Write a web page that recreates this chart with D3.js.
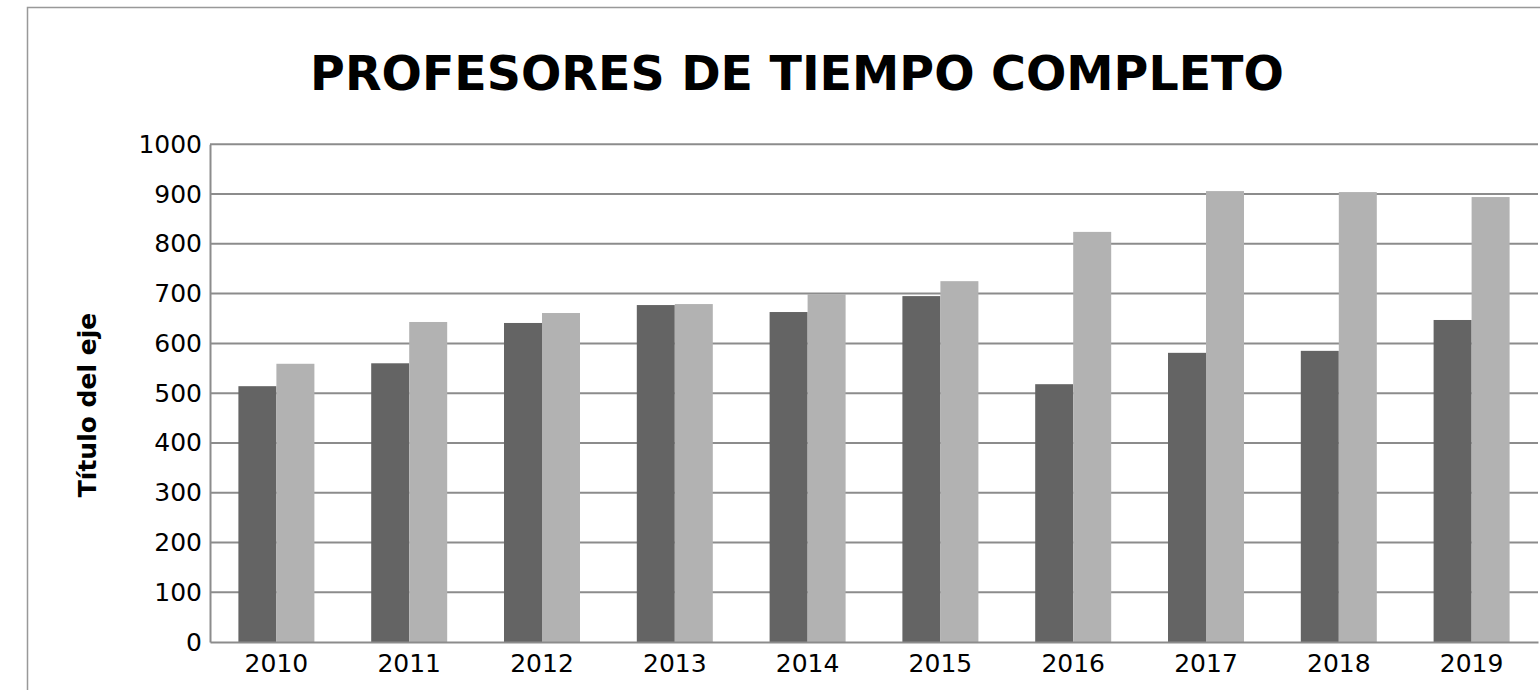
<!DOCTYPE html>
<html>
<head>
<meta charset="utf-8">
<script src="https://cdn.jsdelivr.net/npm/d3@7"></script>
<style>
  html, body { margin: 0; padding: 0; background: #fff; }
  svg { display: block; }
  text { font-family: "DejaVu Sans", sans-serif; fill: #000; }
</style>
</head>
<body>
<svg id="chart" width="1540" height="690"></svg>
<script>
// Años y valores de las dos series
const years = ["2010","2011","2012","2013","2014","2015","2016","2017","2018","2019"];
const seriesA = [514, 560, 641, 677, 663, 695, 518, 581, 585, 647];
const seriesB = [559, 643, 661, 679, 699, 725, 824, 906, 904, 894];
const yTicks = [0,100,200,300,400,500,600,700,800,900,1000];
const seriesColors = ["#646464", "#b2b2b2"];

const svg = d3.select("#chart");
const W = 1540, H = 690;
const plot = { left: 210, right: 1538, top: 144.3, bottom: 642 };

// Marco del gráfico
svg.append("rect")
  .attr("x", 27.5).attr("y", 7.5)
  .attr("width", W + 20).attr("height", H + 20)
  .attr("fill", "#fff").attr("stroke", "#999").attr("stroke-width", 1.5);

// Título
svg.append("text")
  .attr("x", 797).attr("y", 90)
  .attr("text-anchor", "middle")
  .style("font-size", "47.5px").style("font-weight", "bold")
  .text("PROFESORES DE TIEMPO COMPLETO");

const x = d3.scaleBand().domain(years).range([plot.left, plot.right]).padding(0);
const y = d3.scaleLinear().domain([0, 1000]).range([plot.bottom, plot.top]);
const barW = 38;

// Líneas de cuadrícula
svg.append("g").selectAll("line")
  .data(yTicks.filter(t => t > 0))
  .join("line")
  .attr("x1", plot.left).attr("x2", plot.right)
  .attr("y1", d => y(d)).attr("y2", d => y(d))
  .attr("stroke", "#8c8c8c").attr("stroke-width", 2);

// Barras
const groups = svg.append("g").selectAll("g")
  .data(years)
  .join("g")
  .attr("transform", d => `translate(${x(d) + x.bandwidth() / 2},0)`);

[seriesA, seriesB].forEach((vals, si) => {
  groups.append("rect")
    .attr("x", si === 0 ? -barW : 0)
    .attr("width", barW)
    .attr("y", (d, i) => y(vals[i]))
    .attr("height", (d, i) => y(0) - y(vals[i]))
    .attr("fill", seriesColors[si]);
});

// Eje Y
const yAxis = d3.axisLeft(y).tickValues(yTicks).tickFormat(d3.format("d")).tickSize(0).tickPadding(8);
const gy = svg.append("g").attr("transform", `translate(${plot.left},0)`).call(yAxis);
gy.attr("font-family", "DejaVu Sans, sans-serif").attr("font-size", 25);
gy.select(".domain").attr("stroke", "#8c8c8c").attr("stroke-width", 2);

// Eje X
const xAxis = d3.axisBottom(x).tickSize(0).tickPadding(12);
const gx = svg.append("g").attr("transform", `translate(0,${plot.bottom})`).call(xAxis);
gx.attr("font-family", "DejaVu Sans, sans-serif").attr("font-size", 25);
gx.select(".domain").attr("stroke", "#8c8c8c").attr("stroke-width", 2);

// Título del eje Y
svg.append("text")
  .attr("transform", "translate(96,405) rotate(-90)")
  .attr("text-anchor", "middle")
  .style("font-size", "25px").style("font-weight", "bold")
  .text("Título del eje");
</script>
</body>
</html>
